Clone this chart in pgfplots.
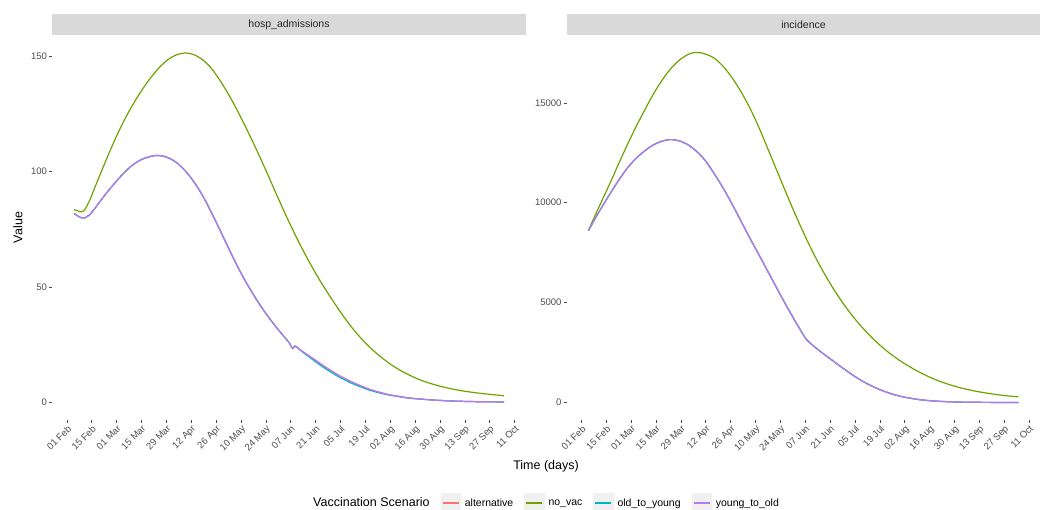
\documentclass[border=0pt]{standalone}
\usepackage{fontspec}
\setmainfont{Liberation Sans}
\usepackage{pgfplots}
\usepackage{pgfplotstable}
\pgfplotsset{compat=1.18}
\definecolor{cRed}{HTML}{F8766D}
\definecolor{cGreen}{HTML}{6FA300}
\definecolor{cTeal}{HTML}{00B4C4}
\definecolor{cPurple}{HTML}{B77AF2}
\definecolor{stripgray}{HTML}{D9D9D9}
\definecolor{keygray}{HTML}{F0F0F0}
\definecolor{tickgray}{HTML}{4D4D4D}

% hosp_admissions
\pgfplotstableread{
day val
4 83.5
6 83.0
8 82.5
10 83.4
13 87.8
16 93.6
19 99.2
22 104.8
25 110.2
28 115.4
32 121.8
37 128.8
42 135.0
47 140.4
52 145.0
57 148.5
62 150.6
67 151.3
72 150.4
77 148.0
82 144.0
88 137.2
94 129.2
100 120.2
106 110.6
112 100.5
118 90.0
124 79.8
130 70.2
136 61.4
142 53.3
148 46.0
154 39.1
160 32.8
166 27.4
172 22.8
178 18.9
184 15.6
190 12.9
198 10.0
206 7.9
214 6.3
222 5.1
230 4.2
238 3.5
246 2.9
}\hospNoVac

\pgfplotstableread{
day val
4 81.8
6 80.8
8 80.0
10 79.9
13 81.4
16 84.3
19 87.4
22 90.4
25 93.2
28 95.9
32 99.3
37 102.8
42 105.2
47 106.5
50 106.9
54 106.7
58 105.6
62 103.7
66 100.8
70 97.1
74 92.6
78 87.3
82 81.2
86 74.9
90 68.4
94 62.0
98 56.0
102 50.5
106 45.4
110 40.7
114 36.4
118 32.4
122 28.7
125 26.0
127 23.4
128.5 24.4
132 22.4
136 20.3
140 18.2
144 16.1
148 14.1
152 12.2
156 10.5
160 9.0
165 7.3
170 5.8
175 4.6
180 3.6
186 2.7
192 2.0
200 1.4
208 0.95
216 0.65
224 0.45
232 0.32
240 0.25
246 0.2
}\hospYoungOld

\pgfplotstableread{
day val
4 81.8
6 80.8
8 80.0
10 79.9
13 81.4
16 84.3
19 87.4
22 90.4
25 93.2
28 95.9
32 99.3
37 102.8
42 105.2
47 106.5
50 106.9
54 106.7
58 105.6
62 103.7
66 100.8
70 97.1
74 92.6
78 87.3
82 81.2
86 74.9
90 68.4
94 62.0
98 56.0
102 50.5
106 45.4
110 40.7
114 36.4
118 32.4
122 28.7
125 26.0
127 23.4
128.5 24.4
132 22.2
136 19.9
140 17.6
144 15.4
148 13.4
152 11.5
156 9.9
160 8.4
165 6.8
170 5.4
175 4.3
180 3.4
186 2.6
192 1.9
200 1.4
208 0.95
216 0.65
224 0.45
232 0.32
240 0.25
246 0.2
}\hospOldYoung

% incidence
\pgfplotstableread{
day val
4 8620
8 9420
12 10190
16 10960
21 11960
26 12930
31 13850
36 14700
40 15360
45 16080
50 16680
55 17130
60 17420
64 17520
68 17490
74 17280
79 16900
84 16360
89 15680
94 14880
98 14150
102 13330
107 12250
112 11180
117 10110
122 9090
127 8120
132 7220
137 6410
142 5670
147 5000
152 4400
157 3860
162 3380
167 2950
172 2570
178 2170
184 1830
190 1530
196 1270
202 1050
208 870
214 720
220 600
226 500
232 420
238 350
246 280
}\incNoVac

\pgfplotstableread{
day val
4 8600
8 9250
12 9850
16 10430
21 11130
26 11750
31 12240
36 12620
40 12870
45 13070
50 13160
55 13100
60 12900
65 12560
70 12080
75 11420
80 10700
85 9900
90 9050
95 8200
100 7380
105 6550
110 5720
115 4900
120 4120
124 3520
126.5 3170
130 2880
135 2520
140 2190
145 1860
150 1540
155 1240
160 980
165 760
170 570
175 420
180 300
186 200
192 125
200 65
210 28
220 12
230 5
246 2
}\incYoungOld

\pgfplotsset{
 facet/.style={
  scale only axis, width=473pt, height=385pt,
  axis x line*=bottom, axis y line*=left,
  axis line style={draw=none},
  tick align=outside, major tick length=3.3pt,
  tick style={color=tickgray, line width=0.6pt},
  xmin=-8.1, xmax=258.1,
  xtick={0,14,...,252},
  xticklabels={01 Feb,15 Feb,01 Mar,15 Mar,29 Mar,12 Apr,26 Apr,10 May,24 May,07 Jun,21 Jun,05 Jul,19 Jul,02 Aug,16 Aug,30 Aug,13 Sep,27 Sep,11 Oct},
  x tick label style={rotate=45, anchor=north east, font=\fontsize{9.5}{10}\selectfont, text=tickgray, inner sep=0.8pt},
  y tick label style={font=\fontsize{9.5}{10}\selectfont, text=tickgray, inner sep=2pt},
  /pgf/number format/assume math mode=true,
  /pgf/number format/set thousands separator={},
  scaled ticks=false,
  every axis title/.style={at={(0.5,1)}, anchor=south, fill=stripgray, minimum width=473pt, minimum height=20.5pt, inner sep=0pt, font=\fontsize{10.5}{12}\selectfont, text=black!85},
  legend image code/.code={\fill[keygray] (0pt,-9pt) rectangle (19pt,9pt); \draw[#1,sharp plot] (1.5pt,0pt) -- (17.5pt,0pt);},
 },
 crv/.style={no marks, line width=1.2pt, smooth, tension=0.5},
}

\begin{document}
\begin{tikzpicture}
\path[use as bounding box] (0pt,0pt) rectangle (1045pt,-510pt);
\begin{axis}[facet, at={(52.5pt,-420pt)}, anchor=south west,
  title={hosp\_admissions},
  ymin=-7.6, ymax=159.1, ytick={0,50,100,150},
  every axis y label/.style={at={(axis description cs:-0.0729,0.5)}, rotate=90, anchor=center, font=\fontsize{12.5}{14}\selectfont},
  ylabel={Value},
  every axis x label/.style={at={(axis description cs:1.0434,-0.1195)}, anchor=center, font=\fontsize{12.5}{14}\selectfont},
  xlabel={Time (days)},
  legend style={at={(axis description cs:1.0434,-0.2156)}, anchor=center, draw=none, fill=none, legend columns=5, font=\fontsize{10.5}{12}\selectfont, /tikz/every even column/.append style={column sep=7pt}, nodes={inner sep=4pt}},
]
\addlegendimage{empty legend}
\addlegendentry{\fontsize{12.5}{14}\selectfont Vaccination Scenario}
\addplot[crv, cRed] table[x=day,y=val] {\hospYoungOld};
\addlegendentry{alternative}
\addplot[crv, cGreen] table[x=day,y=val] {\hospNoVac};
\addlegendentry{no\_vac}
\addplot[crv, cTeal] table[x=day,y=val] {\hospOldYoung};
\addlegendentry{old\_to\_young}
\addplot[crv, cPurple] table[x=day,y=val] {\hospYoungOld};
\addlegendentry{young\_to\_old}
\end{axis}
\begin{axis}[facet, at={(567pt,-420pt)}, anchor=south west,
  title={incidence},
  ymin=-876, ymax=18396, ytick={0,5000,10000,15000},
]
\addplot[crv, cRed] table[x=day,y=val] {\incYoungOld};
\addplot[crv, cGreen] table[x=day,y=val] {\incNoVac};
\addplot[crv, cTeal] table[x=day,y=val] {\incYoungOld};
\addplot[crv, cPurple] table[x=day,y=val] {\incYoungOld};
\end{axis}
\end{tikzpicture}
\end{document}
